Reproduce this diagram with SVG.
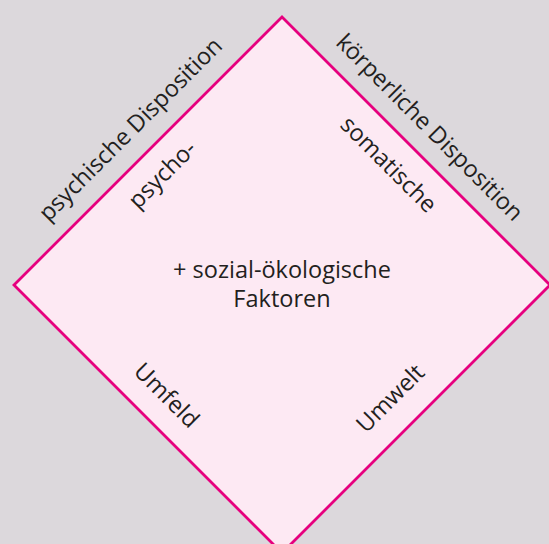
<svg xmlns="http://www.w3.org/2000/svg" width="549" height="544" viewBox="0 0 549 544">
<style>
.t{font-family:"Open Sans","Liberation Sans",sans-serif;font-size:23.5px;fill:#231f20;text-anchor:middle}
</style>
<rect x="0" y="0" width="549" height="544" fill="#dcd8dc"/>
<g id="diamond">
<polygon points="282,17 550,285 282,553 14,285" fill="#fde9f3" stroke="#e6007e" stroke-width="2.8"/>
</g>
<g id="connectors"></g>
<g id="labels">
<text class="t" transform="translate(136,135) rotate(-45)">psychische Disposition</text>
<text class="t" transform="translate(168,180) rotate(-45)">psycho-</text>
<text class="t" transform="translate(424,133) rotate(45)">körperliche Disposition</text>
<text class="t" transform="translate(383,170) rotate(45)">somatische</text>
<text class="t" transform="translate(161,401) rotate(45)">Umfeld</text>
<text class="t" transform="translate(396,404) rotate(-45)">Umwelt</text>
<text class="t" x="282" y="278">+ sozial-ökologische</text>
<text class="t" x="282" y="307">Faktoren</text>
</g>
</svg>
